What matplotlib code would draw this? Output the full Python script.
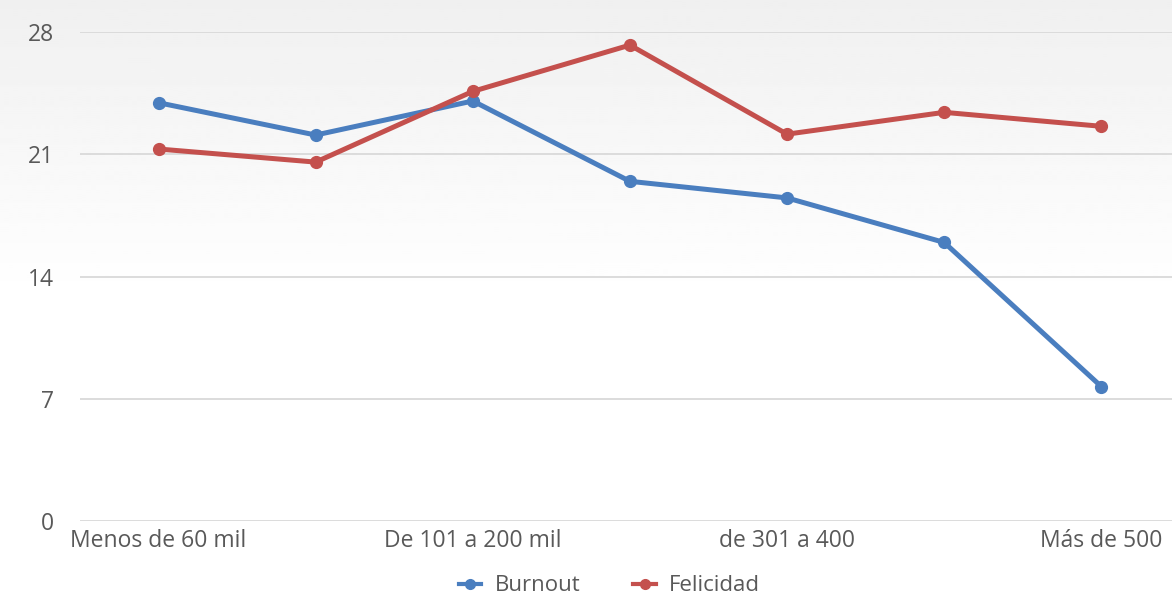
import matplotlib.pyplot as plt
from matplotlib.lines import Line2D
import numpy as np

# data
categories = ["Menos de 60 mil", "De 61 a 100 mil", "De 101 a 200 mil", "De 201 a 300 mil",
              "de 301 a 400", "De 401 a 500", "Más de 500"]
burnout = [23.95, 22.1, 24.05, 19.45, 18.5, 15.95, 7.7]
felicidad = [21.3, 20.55, 24.6, 27.25, 22.15, 23.4, 22.6]
y_ticks = [0, 7, 14, 21, 28]

blue = '#4a7ebf'
red = '#c4504d'
text_col = '#595959'

plt.rcParams['font.family'] = ['Open Sans', 'DejaVu Sans']

fig = plt.figure(figsize=(11.72, 5.99), dpi=100)
fig.patch.set_facecolor('white')

# soft grey gradient behind the top of the chart
bg = fig.add_axes([0, 0, 1, 1], zorder=-10)
grad = np.linspace(0, 1, 300).reshape(-1, 1)
grad = np.clip(grad * 2.0, 0, 1)
bg.imshow(0.94 + 0.06 * grad, cmap='gray', vmin=0, vmax=1, aspect='auto', extent=[0, 1, 0, 1],
          origin='upper')
bg.axis('off')

ax = fig.add_axes([80 / 1172, (599 - 521) / 599, 1 - 80 / 1172, (521 - 32) / 599])
ax.patch.set_alpha(0)

x = np.arange(len(categories))
ax.plot(x, burnout, color=blue, lw=3.6, marker='o', ms=8.5, label='Burnout',
        solid_joinstyle='round', solid_capstyle='round', zorder=3)
ax.plot(x, felicidad, color=red, lw=3.6, marker='o', ms=8.5, label='Felicidad',
        solid_joinstyle='round', solid_capstyle='round', zorder=3)

ax.set_ylim(0, 28)
ax.set_xlim(-0.5, 6.45)
ax.set_yticks(y_ticks)
ax.set_yticklabels([str(t) for t in y_ticks])
ax.set_xticks(x[::2])
ax.set_xticklabels(categories[::2])
ax.tick_params(axis='both', length=0, labelsize=16.5, colors=text_col)
ax.tick_params(axis='y', pad=19)
ax.tick_params(axis='x', pad=6)
ax.grid(axis='y', color='#d9d9d9', lw=1.3)
ax.set_axisbelow(True)
for s in ax.spines.values():
    s.set_visible(False)

handles = [Line2D([], [], color=blue, lw=3, marker='o', ms=7),
           Line2D([], [], color=red, lw=3, marker='o', ms=7)]
fig.legend(handles, ['Burnout', 'Felicidad'], loc='center', bbox_to_anchor=(0.52, 0.022),
           ncol=2, frameon=False, fontsize=16, labelcolor=text_col, handlelength=1.0,
           columnspacing=2.4, handletextpad=0.6, borderpad=0.1)

fig.savefig('out.png', dpi=100)
